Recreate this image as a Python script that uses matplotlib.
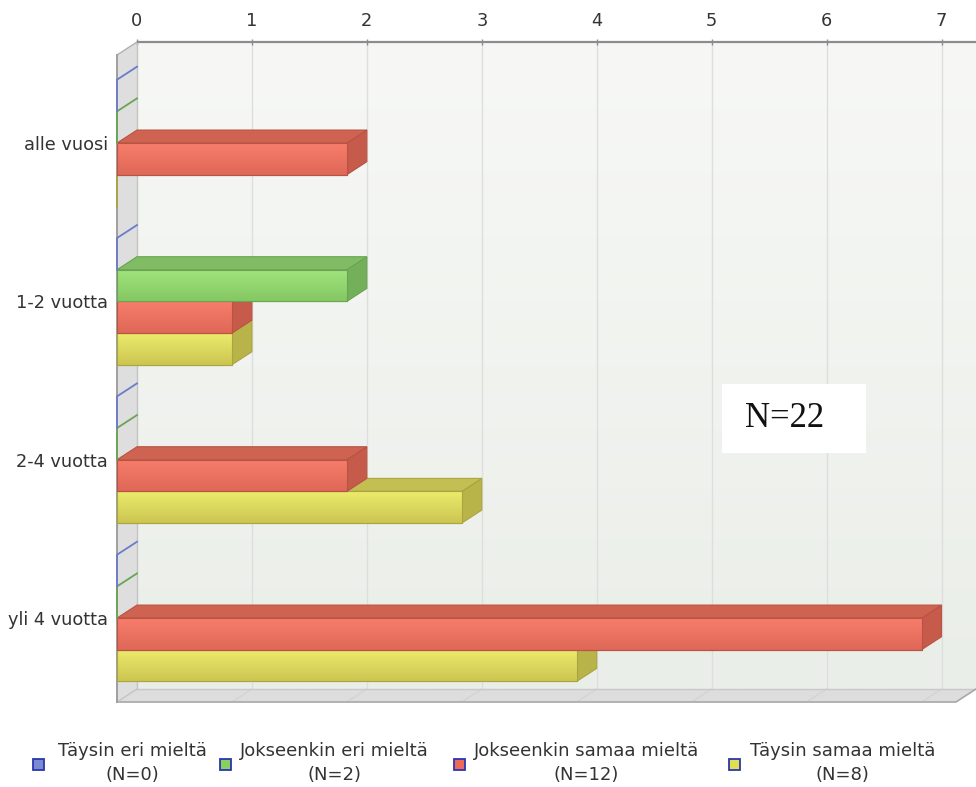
import numpy as np
import matplotlib
matplotlib.use("Agg")
import matplotlib.pyplot as plt
from matplotlib.patches import Polygon, Rectangle
from matplotlib.colors import to_rgb

# ---------------- data ----------------
categories = ["alle vuosi", "1-2 vuotta", "2-4 vuotta", "yli 4 vuotta"]
series_names = ["Täysin eri mieltä", "Jokseenkin eri mieltä",
                "Jokseenkin samaa mieltä", "Täysin samaa mieltä"]
series_n = [0, 2, 12, 8]
taysin_eri = [0, 0, 0, 0]
jokseenkin_eri = [0, 2, 0, 0]
jokseenkin_samaa = [2, 1, 2, 7]
taysin_samaa = [0, 1, 3, 4]
x_ticks = [0, 1, 2, 3, 4, 5, 6, 7]
total_n = 22

series_values = [taysin_eri, jokseenkin_eri, jokseenkin_samaa, taysin_samaa]

# colours: (front top, front bottom, top face, side face, edge, legend)
styles = [
    ("#8e9de0", "#7282cc", "#7181c8", "#6878c0", "#6a7ccc", "#7a8ad0"),
    ("#a2e680", "#86c964", "#7fbc63", "#74b05a", "#6aa452", "#88d060"),
    ("#fa7f6c", "#df6858", "#cf6352", "#c65a4b", "#b85444", "#ee6a58"),
    ("#eeee6e", "#cdc652", "#c3bf52", "#b8b44a", "#a9a540", "#dede50"),
]

# ---------------- geometry ----------------
W, H = 976, 787
fig = plt.figure(figsize=(W / 100, H / 100), dpi=100)
AX_L, AX_R, AX_T, AX_B = 117, 976, 42, 702
ax = fig.add_axes([AX_L / W, 1 - AX_B / H, (AX_R - AX_L) / W, (AX_B - AX_T) / H])

DEPTH_X, DEPTH_Y = 20, 13          # pixel depth of the 3D effect
XSPAN = 7.3                        # front plane x extent (value units)
TOP_M, BOT_M = 0.556, 0.53         # category-unit margins of front plane
n_cat = len(categories)
px_per_x = (AX_R - AX_L - DEPTH_X) / XSPAN
px_per_y = (AX_B - AX_T - DEPTH_Y) / (n_cat - 1 + TOP_M + BOT_M)
DX = DEPTH_X / px_per_x
DY = DEPTH_Y / px_per_y
Y_TOP = -TOP_M
Y_BOT = n_cat - 1 + BOT_M

ax.set_xlim(0, XSPAN + DX)
ax.set_ylim(Y_BOT, Y_TOP - DY)
ax.set_autoscale_on(False)

# back wall gradient
grad = np.linspace(0, 1, 256)[:, None, None]
c_top, c_bot = np.array(to_rgb("#f7f8f6")), np.array(to_rgb("#eaeee8"))
wall = c_top * (1 - grad) + c_bot * grad
ax.imshow(wall, extent=(DX, XSPAN + DX, Y_BOT - DY, Y_TOP - DY), aspect="auto",
          origin="upper", zorder=0, interpolation="bilinear")

# grid lines on back wall
for t in x_ticks[1:]:
    ax.plot([t + DX, t + DX], [Y_TOP - DY, Y_BOT - DY], color="#dedede", lw=1, zorder=1)

# floor
ax.add_patch(Polygon([(0, Y_BOT), (XSPAN, Y_BOT), (XSPAN + DX, Y_BOT - DY), (DX, Y_BOT - DY)],
                     closed=True, facecolor="#dddddd", edgecolor="none", zorder=1.5))
for t in x_ticks[1:]:
    ax.plot([t + DX, t], [Y_BOT - DY, Y_BOT], color="#d2d2d2", lw=0.8, zorder=1.6)
ax.plot([DX, XSPAN + DX], [Y_BOT - DY, Y_BOT - DY], color="#c8c8c8", lw=1, zorder=1.7)
ax.plot([0, XSPAN, XSPAN + DX], [Y_BOT, Y_BOT, Y_BOT - DY], color="#a8a8a8", lw=1.2,
        zorder=1.7, clip_on=False)

# left wall
ax.add_patch(Polygon([(0, Y_TOP), (DX, Y_TOP - DY), (DX, Y_BOT - DY), (0, Y_BOT)],
                     closed=True, facecolor="#dedede", edgecolor="none", zorder=1.5))
ax.plot([DX, DX], [Y_TOP - DY, Y_BOT - DY], color="#c4c4c4", lw=1, zorder=1.7)
ax.plot([0, DX], [Y_TOP, Y_TOP - DY], color="#b0b0b0", lw=1, zorder=1.7, clip_on=False)
ax.plot([0, DX], [Y_BOT, Y_BOT - DY], color="#c4c4c4", lw=1, zorder=1.7)
ax.plot([0, 0], [Y_TOP, Y_BOT], color="#999999", lw=1.3, zorder=1.7, clip_on=False)

# top axis line
ax.plot([DX, XSPAN + DX], [Y_TOP - DY, Y_TOP - DY], color="#8c8c8c", lw=1.6,
        zorder=3, clip_on=False, solid_capstyle="butt")

# ---------------- bars ----------------
n_ser = len(series_values)
BAR_H = 0.2
z = 5
for ci in range(n_cat):
    for si in reversed(range(n_ser)):
        v = series_values[si][ci]
        ft, fb, topc, sidec, edgec, _ = styles[si]
        yc = ci + (si - (n_ser - 1) / 2) * BAR_H
        y0, y1 = yc - BAR_H / 2, yc + BAR_H / 2
        if v > 0:
            # side face
            ax.add_patch(Polygon([(v, y0), (v + DX, y0 - DY), (v + DX, y1 - DY), (v, y1)],
                                 closed=True, facecolor=sidec, edgecolor=edgec, lw=0.8, zorder=z))
            # top face
            ax.add_patch(Polygon([(0, y0), (v, y0), (v + DX, y0 - DY), (DX, y0 - DY)],
                                 closed=True, facecolor=topc, edgecolor=edgec, lw=0.8, zorder=z))
            # front face
            bars = ax.barh([yc], [v], height=BAR_H, left=0, color=fb, edgecolor=edgec,
                           linewidth=0.8, zorder=z + 0.1)
            g = np.linspace(0, 1, 64)[:, None, None]
            img = np.array(to_rgb(ft)) * (1 - g) + np.array(to_rgb(fb)) * g
            im = ax.imshow(img, extent=(0, v, y1, y0), aspect="auto", origin="upper",
                           zorder=z + 0.2, interpolation="bilinear", alpha=0.95)
            im.set_clip_path(bars.patches[0])
            ax.add_patch(Rectangle((0, y0), v, BAR_H, facecolor="none", edgecolor=edgec,
                                   lw=0.8, zorder=z + 0.3, clip_on=False))
        else:
            # zero-length bar: only its edges show, on the left wall
            ax.plot([0, 0, DX], [y1, y0, y0 - DY], color=edgec, lw=1.3, zorder=z,
                    solid_joinstyle="miter", clip_on=False)
        z += 0.5

# ---------------- ticks / labels ----------------
for s in ax.spines.values():
    s.set_visible(False)
ax.patch.set_visible(False)
ax.xaxis.tick_top()
ax.set_xticks([t + DX for t in x_ticks])
ax.set_xticklabels([str(t) for t in x_ticks])
ax.tick_params(axis="x", direction="inout", length=4.5, width=1, color="#8c8c8c",
               labelsize=12.8, labelcolor="#333333", pad=6.5)
ax.set_yticks(range(n_cat))
ax.set_yticklabels(categories)
ax.tick_params(axis="y", length=0, labelsize=12.8, labelcolor="#333333", pad=6.5)

# N=22 box
fig.patches.append(Rectangle((722 / W, 1 - 453 / H), (866 - 722) / W, (453 - 384) / H,
                             transform=fig.transFigure, facecolor="white",
                             edgecolor="none", zorder=10))
fig.text(745 / W, 1 - 427 / H, f"N={total_n}", family="Liberation Serif", fontsize=25,
         color="#111111", ha="left", va="baseline", zorder=11)

# ---------------- legend ----------------
text_starts = [58, 240, 474, 750]
box_lefts = [33, 220, 454, 729]
fig.canvas.draw()
renderer = fig.canvas.get_renderer()
for si in range(n_ser):
    fig.patches.append(Rectangle((box_lefts[si] / W, 1 - 770 / H), 11 / W, 11 / H,
                                 transform=fig.transFigure, facecolor=styles[si][5],
                                 edgecolor="#2a36b0", lw=1.3))
    t1 = fig.text(text_starts[si] / W, 1 - 756 / H, series_names[si], fontsize=13,
                  color="#333333", ha="left", va="baseline")
    bb = t1.get_window_extent(renderer)
    cx = (bb.x0 + bb.x1) / 2 / W
    fig.text(cx, 1 - 780 / H, f"(N={series_n[si]})", fontsize=13, color="#333333",
             ha="center", va="baseline")

fig.savefig("out.png", dpi=100)
